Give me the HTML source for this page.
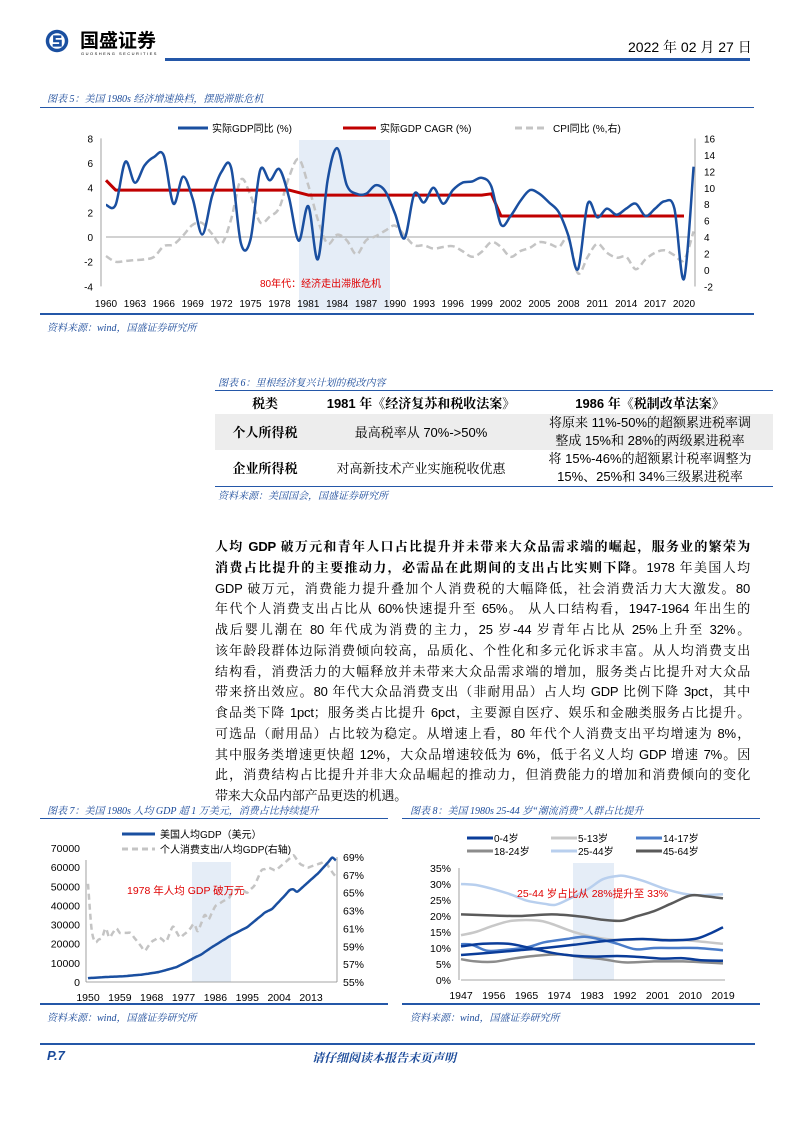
<!DOCTYPE html>
<html><head><meta charset="utf-8">
<style>
*{margin:0;padding:0;box-sizing:border-box}
body{width:794px;height:1123px;background:#fff;position:relative;overflow:hidden;font-family:"Liberation Sans","Noto Sans CJK SC",sans-serif;color:#000}
.a{position:absolute;white-space:nowrap}
.cap{font-family:"Liberation Serif","Noto Serif CJK SC",serif;font-style:italic;font-size:10px;color:#1a4a9a}
.ln{position:absolute;background:#2457a8}
.p{position:absolute;left:215px;top:537px;width:535px;font-family:"Liberation Sans","Noto Serif CJK SC",serif;font-size:13px;letter-spacing:-0.2px}
.p div{height:20.75px;line-height:20.75px;text-align:justify;text-align-last:justify;white-space:nowrap;overflow:visible}
.p div.l{text-align-last:left}
table{position:absolute;left:215px;top:390px;width:558px;border-collapse:collapse;font-family:"Liberation Sans","Noto Serif CJK SC",serif;font-size:13px;text-align:center}
td,th{padding:0}
svg text{font-family:"Liberation Sans","Noto Sans CJK SC",sans-serif}
</style></head><body>
<!-- header -->
<svg class="a" style="left:44px;top:26px" width="26" height="30" viewBox="0 0 30 32">
<circle cx="15" cy="16" r="13" fill="#1a4fa0"/><circle cx="15" cy="16" r="9" fill="#fff"/>
<path d="M20 11 H12 V16 H19 V21 H10" stroke="#1a4fa0" stroke-width="3" fill="none"/></svg>
<div class="a" style="left:80px;top:26px;font-size:19px;font-weight:bold;font-family:'Noto Sans CJK SC',sans-serif">国盛证券</div>
<div class="a" style="left:81px;top:51px;font-size:4px;letter-spacing:1.5px">GUOSHENG SECURITIES</div>
<div class="ln" style="left:165px;top:58px;width:585px;height:2.5px"></div>
<div class="a" style="left:628px;top:37px;font-size:14px;font-family:'Liberation Sans','Noto Serif CJK SC',sans-serif">2022 年 02 月 27 日</div>

<!-- fig5 -->
<div class="a cap" style="left:47px;top:90px">图表 5：美国 1980s 经济增速换档，摆脱滞胀危机</div>
<div class="ln" style="left:40px;top:107px;width:714px;height:1px"></div>
<svg class="a" style="left:0;top:110px" width="794" height="205" id="c1"></svg>
<div class="ln" style="left:40px;top:313px;width:714px;height:2px"></div>
<div class="a cap" style="left:47px;top:319px">资料来源：wind，国盛证券研究所</div>

<!-- table -->
<div class="a cap" style="left:218px;top:374px">图表 6：里根经济复兴计划的税改内容</div>
<table>
<tr style="height:23px;border-top:1.5px solid #2457a8"><th style="width:100px">税类</th><th style="width:212px">1981 年《经济复苏和税收法案》</th><th>1986 年《税制改革法案》</th></tr>
<tr style="height:36px;background:#ededed"><td style="font-weight:bold">个人所得税</td><td>最高税率从 70%-&gt;50%</td><td style="line-height:18px">将原来 11%-50%的超额累进税率调<br>整成 15%和 28%的两级累进税率</td></tr>
<tr style="height:37px;border-bottom:1.5px solid #2457a8"><td style="font-weight:bold">企业所得税</td><td>对高新技术产业实施税收优惠</td><td style="line-height:18px">将 15%-46%的超额累计税率调整为<br>15%、25%和 34%三级累进税率</td></tr>
</table>
<div class="a cap" style="left:218px;top:487px">资料来源：美国国会，国盛证券研究所</div>

<div class="p">
<div><b>人均 GDP 破万元和青年人口占比提升并未带来大众品需求端的崛起，服务业的繁荣为</b></div>
<div><b>消费占比提升的主要推动力，必需品在此期间的支出占比实则下降。</b>1978 年美国人均</div>
<div>GDP 破万元，消费能力提升叠加个人消费税的大幅降低，社会消费活力大大激发。80</div>
<div>年代个人消费支出占比从 60%快速提升至 65%。 从人口结构看，1947-1964 年出生的</div>
<div>战后婴儿潮在 80 年代成为消费的主力，25 岁-44 岁青年占比从 25%上升至 32%。</div>
<div>该年龄段群体边际消费倾向较高，品质化、个性化和多元化诉求丰富。从人均消费支出</div>
<div>结构看，消费活力的大幅释放并未带来大众品需求端的增加，服务类占比提升对大众品</div>
<div>带来挤出效应。80 年代大众品消费支出（非耐用品）占人均 GDP 比例下降 3pct，其中</div>
<div>食品类下降 1pct；服务类占比提升 6pct，主要源自医疗、娱乐和金融类服务占比提升。</div>
<div>可选品（耐用品）占比较为稳定。从增速上看，80 年代个人消费支出平均增速为 8%，</div>
<div>其中服务类增速更快超 12%，大众品增速较低为 6%，低于名义人均 GDP 增速 7%。因</div>
<div>此，消费结构占比提升并非大众品崛起的推动力，但消费能力的增加和消费倾向的变化</div>
<div class="l">带来大众品内部产品更迭的机遇。</div>
</div>

<!-- fig7 / fig8 -->
<div class="a cap" style="left:47px;top:802px">图表 7：美国 1980s 人均 GDP 超 1 万美元，消费占比持续提升</div>
<div class="ln" style="left:40px;top:818px;width:348px;height:1px"></div>
<div class="a cap" style="left:410px;top:802px">图表 8：美国 1980s 25-44 岁“潮流消费”人群占比提升</div>
<div class="ln" style="left:402px;top:818px;width:358px;height:1px"></div>
<svg class="a" style="left:0;top:820px" width="794" height="185" id="c2"></svg>
<div class="ln" style="left:40px;top:1003px;width:348px;height:2px"></div>
<div class="ln" style="left:402px;top:1003px;width:358px;height:2px"></div>
<div class="a cap" style="left:47px;top:1009px">资料来源：wind，国盛证券研究所</div>
<div class="a cap" style="left:410px;top:1009px">资料来源：wind，国盛证券研究所</div>

<div class="ln" style="left:40px;top:1043px;width:715px;height:1.5px"></div>
<div class="a" style="left:47px;top:1048px;font-size:13px;font-weight:bold;font-style:italic;color:#1a4a9a">P.7</div>
<div class="a" style="left:312px;top:1049px;font-size:12px;font-weight:bold;font-style:italic;color:#1a4a9a;font-family:'Liberation Sans','Noto Serif CJK SC',serif">请仔细阅读本报告末页声明</div>

<script>
function smooth(pts){let d="M"+pts[0][0].toFixed(1)+","+pts[0][1].toFixed(1);
for(let i=0;i<pts.length-1;i++){const p0=pts[i-1]||pts[i],p1=pts[i],p2=pts[i+1],p3=pts[i+2]||p2;
const c1=[p1[0]+(p2[0]-p0[0])/6,p1[1]+(p2[1]-p0[1])/6],c2=[p2[0]-(p3[0]-p1[0])/6,p2[1]-(p3[1]-p1[1])/6];
d+="C"+c1.map(v=>v.toFixed(1))+" "+c2.map(v=>v.toFixed(1))+" "+p2[0].toFixed(1)+","+p2[1].toFixed(1);}return d;}
function lin(pts){return "M"+pts.map(p=>p[0].toFixed(1)+","+p[1].toFixed(1)).join("L");}
function interp(keys,x0,x1){const out=[];for(let x=x0;x<=x1;x++){let i=0;while(i<keys.length-2&&keys[i+1][0]<x)i++;const a=keys[i],b=keys[i+1];const t=(x-a[0])/(b[0]-a[0]);out.push([x,a[1]+(b[1]-a[1])*Math.max(0,Math.min(1,t))]);}return out;}
const NS="http://www.w3.org/2000/svg";
function el(svg,tag,attrs,txt){const e=document.createElementNS(NS,tag);for(const k in attrs)e.setAttribute(k,attrs[k]);if(txt!==undefined)e.textContent=txt;svg.appendChild(e);return e;}

(function(){const s=document.getElementById('c1');const O=110;
const X=y=>106+(y-1960)*578/60, YL=v=>237-O-v*12.33, YR=v=>270-O-v*8.22;
el(s,'rect',{x:299,y:140-O,width:91,height:170,fill:'#e5edf7'});
el(s,'line',{x1:106,y1:YL(0),x2:690,y2:YL(0),stroke:'#888','stroke-width':0.8});
el(s,'line',{x1:101,y1:YL(8),x2:101,y2:YL(-4),stroke:'#888','stroke-width':0.8});
el(s,'line',{x1:695,y1:YR(16),x2:695,y2:YR(-2),stroke:'#888','stroke-width':0.8});
for(let v=-4;v<=8;v+=2){el(s,'text',{x:93,y:YL(v)+4,'font-size':10,'text-anchor':'end'},v);}
for(let v=-2;v<=16;v+=2){el(s,'text',{x:704,y:YR(v)+4,'font-size':10},v);}
for(let y=1960;y<=2020;y+=3){el(s,'text',{x:X(y),y:303-O+4,'font-size':10,'text-anchor':'middle'},y);}
const cpi=[1.7,1.0,1.1,1.2,1.3,1.6,2.9,3.1,4.2,5.5,5.7,4.4,3.2,6.2,11.0,9.1,5.8,6.5,7.6,11.3,13.5,10.3,6.1,3.2,4.3,3.6,1.9,3.6,4.1,4.8,5.4,4.2,3.0,3.0,2.6,2.8,2.9,2.3,1.6,2.2,3.4,2.8,1.6,2.3,2.7,3.4,3.2,2.8,3.8,-0.4,1.6,3.2,2.1,1.5,1.6,0.1,1.3,2.1,2.4,1.8,1.2,4.7];
const gdp=[2.6,2.6,6.1,4.4,5.8,6.5,6.6,2.7,4.9,3.1,0.2,3.3,5.3,5.6,-0.5,-0.2,5.4,4.6,5.5,3.2,-0.3,2.5,-1.8,4.6,7.2,4.2,3.5,3.5,4.2,3.7,1.9,-0.1,3.5,2.8,4.0,2.7,3.8,4.4,4.5,4.8,4.1,1.0,1.7,2.9,3.8,3.5,2.8,2.0,0.1,-2.6,2.7,1.6,2.3,1.8,2.3,2.7,1.7,2.3,2.9,2.3,-3.4,5.7];
el(s,'path',{d:smooth(cpi.map((v,i)=>[X(1960+i),YR(v)])),stroke:'#c4c4c4','stroke-width':2.5,fill:'none','stroke-dasharray':'7,4'});
const cg=[[1960,4.6],[1961,3.8],[1979,3.8],[1980,3.6],[1981,3.4],[1999,3.4],[2000,3.5],[2001,1.7],[2020,1.7]];
el(s,'path',{d:lin(cg.map(p=>[X(p[0]),YL(p[1])])),stroke:'#c00000','stroke-width':3,fill:'none','stroke-linejoin':'round'});
el(s,'path',{d:smooth(gdp.map((v,i)=>[X(1960+i),YL(v)])),stroke:'#1a4fa0','stroke-width':2.5,fill:'none'});
el(s,'text',{x:260,y:283-O+4,'font-size':10,fill:'#e00000'},'80年代：经济走出滞胀危机');
el(s,'line',{x1:178,y1:128-O,x2:208,y2:128-O,stroke:'#1a4fa0','stroke-width':3});
el(s,'text',{x:212,y:128-O+4,'font-size':10},'实际GDP同比 (%)');
el(s,'line',{x1:343,y1:128-O,x2:376,y2:128-O,stroke:'#c00000','stroke-width':3});
el(s,'text',{x:380,y:128-O+4,'font-size':10},'实际GDP CAGR (%)');
el(s,'line',{x1:515,y1:128-O,x2:548,y2:128-O,stroke:'#c4c4c4','stroke-width':3,'stroke-dasharray':'7,4'});
el(s,'text',{x:553,y:128-O+4,'font-size':10},'CPI同比 (%,右)');
})();

(function(){const s=document.getElementById('c2');const O=820;
const X=y=>88+(y-1950)*3.54, YL=v=>982-O-v*134/70000, YR=v=>982-O-(v-55)*125/14;
el(s,'rect',{x:192,y:862-O,width:39,height:120,fill:'#e5edf7'});
el(s,'line',{x1:86,y1:YL(0),x2:337,y2:YL(0),stroke:'#888','stroke-width':0.8});
el(s,'line',{x1:86,y1:YL(0),x2:86,y2:YL(70000)+12,stroke:'#888','stroke-width':0.8});
el(s,'line',{x1:337,y1:YR(69),x2:337,y2:YR(55),stroke:'#888','stroke-width':0.8});
for(let v=0;v<=70000;v+=10000)el(s,'text',{x:80,y:YL(v)+4,'font-size':10.5,'text-anchor':'end'},v);
for(let v=55;v<=69;v+=2)el(s,'text',{x:343,y:YR(v)+4,'font-size':10.5},v+'%');
for(let y=1950;y<=2013;y+=9)el(s,'text',{x:X(y),y:997-O+4,'font-size':10.5,'text-anchor':'middle'},y);
const r=interp([[1950,66],[1951,61],[1952,59.5],[1954,60],[1955,61],[1956,60],[1958,61],[1959,60.5],[1962,60.5],[1964,59.5],[1966,58.5],[1968,59.5],[1970,60],[1972,59.5],[1974,61.2],[1976,60],[1978,60.6],[1980,61.5],[1981,60.7],[1983,62.5],[1984,62],[1986,63.5],[1988,64],[1990,64.5],[1991,65.2],[1993,65.5],[1995,65],[1997,65.8],[1999,67.5],[2001,67.8],[2003,67.5],[2006,68.5],[2008,69.2],[2010,68.2],[2012,67.8],[2015,68.2],[2017,68.5],[2019,67.3],[2020,66.8]],1950,2020);
el(s,'path',{d:smooth(r.map(p=>[X(p[0]),YR(p[1])])),stroke:'#c4c4c4','stroke-width':2.5,fill:'none','stroke-dasharray':'6,4'});
const g=interp([[1950,2000],[1955,2600],[1960,3000],[1965,3800],[1970,5200],[1975,7800],[1978,10600],[1980,12600],[1982,14400],[1985,18200],[1990,23900],[1995,28700],[2000,36300],[2002,38200],[2005,44000],[2007,48000],[2008,48400],[2009,47100],[2010,48500],[2015,56800],[2018,62900],[2019,65000],[2020,63500]],1950,2020);
el(s,'path',{d:smooth(g.map(p=>[X(p[0]),YL(p[1])])),stroke:'#1a4fa0','stroke-width':2.5,fill:'none'});
el(s,'text',{x:127,y:890-O+4,'font-size':10.5,fill:'#e00000'},'1978 年人均 GDP 破万元');
el(s,'line',{x1:122,y1:834-O,x2:155,y2:834-O,stroke:'#1a4fa0','stroke-width':3});
el(s,'text',{x:160,y:834-O+4,'font-size':10},'美国人均GDP（美元）');
el(s,'line',{x1:122,y1:849-O,x2:155,y2:849-O,stroke:'#c4c4c4','stroke-width':3,'stroke-dasharray':'6,4'});
el(s,'text',{x:160,y:849-O+4,'font-size':10},'个人消费支出/人均GDP(右轴)');
const X2=y=>461+(y-1947)*262/72, Y2=v=>980-O-v*112/35;
el(s,'rect',{x:573,y:863-O,width:41,height:117,fill:'#e5edf7'});
el(s,'line',{x1:461,y1:Y2(0),x2:725,y2:Y2(0),stroke:'#888','stroke-width':0.8});
el(s,'line',{x1:459,y1:Y2(0),x2:459,y2:Y2(35),stroke:'#888','stroke-width':0.8});
for(let v=0;v<=35;v+=5)el(s,'text',{x:451,y:Y2(v)+4,'font-size':10.5,'text-anchor':'end'},v+'%');
for(let y=1947;y<=2019;y+=9)el(s,'text',{x:X2(y),y:995-O+4,'font-size':10.5,'text-anchor':'middle'},y);
const ser=[
 ['#b8cfee',[[1947,30],[1952,29.5],[1960,27],[1965,24.8],[1970,23.8],[1973,23.5],[1977,25.5],[1982,28.5],[1986,31.5],[1990,32.5],[1992,32.5],[1997,31],[2003,28.5],[2008,27],[2012,26.5],[2019,26.8]]],
 ['#5a5a5a',[[1947,20.5],[1955,20.2],[1963,20],[1972,20.5],[1980,19.8],[1986,18.8],[1991,18.5],[1995,19.8],[2000,21.5],[2005,24],[2010,26.4],[2014,26.2],[2019,25.5]]],
 ['#c8c8c8',[[1947,14],[1951,15],[1956,17],[1961,18.5],[1968,18.6],[1972,17.5],[1978,15],[1984,13.3],[1990,12.5],[1998,12.8],[2004,12.6],[2010,12.3],[2019,11.3]]],
 ['#4a7cc9',[[1947,11.2],[1950,11],[1954,9.2],[1958,9.3],[1965,10.2],[1970,11.8],[1976,12.8],[1981,13.5],[1986,12.5],[1990,11.3],[1995,9.6],[2000,10],[2006,10],[2012,10],[2019,9.3]]],
 ['#8c8c8c',[[1947,6.5],[1951,5.8],[1956,5.7],[1962,6.8],[1967,7.5],[1974,8],[1980,7.2],[1986,6.5],[1992,5.5],[2000,5.8],[2008,5.8],[2014,5.5],[2019,5.2]]],
 ['#0a3c99',[[1947,10.5],[1953,11.3],[1960,11.3],[1966,10],[1972,8.5],[1978,7.6],[1984,7.3],[1990,7.5],[1996,7.2],[2002,6.7],[2008,6.8],[2013,6.2],[2019,6]]],
 ['#0a3c99',[[1947,7.8],[1955,8.5],[1963,9.3],[1970,10],[1978,11],[1985,12],[1991,12.6],[1997,12.8],[2003,12.4],[2008,12.5],[2012,13],[2016,14.8],[2019,16.5]]]
];
ser.forEach(([c,k])=>el(s,'path',{d:smooth(k.map(p=>[X2(p[0]),Y2(p[1])])),stroke:c,'stroke-width':2.5,fill:'none'}));
el(s,'text',{x:517,y:893-O+4,'font-size':10.5,fill:'#e00000'},'25-44 岁占比从 28%提升至 33%');
const lg=[['#0a3c99','0-4岁',467,838],['#c8c8c8','5-13岁',551,838],['#4a7cc9','14-17岁',636,838],['#8c8c8c','18-24岁',467,851],['#b8cfee','25-44岁',551,851],['#5a5a5a','45-64岁',636,851]];
lg.forEach(([c,t,x,y])=>{el(s,'line',{x1:x,y1:y-O,x2:x+26,y2:y-O,stroke:c,'stroke-width':3});el(s,'text',{x:x+27,y:y-O+4,'font-size':10},t);});
})();
</script>
</body></html>
